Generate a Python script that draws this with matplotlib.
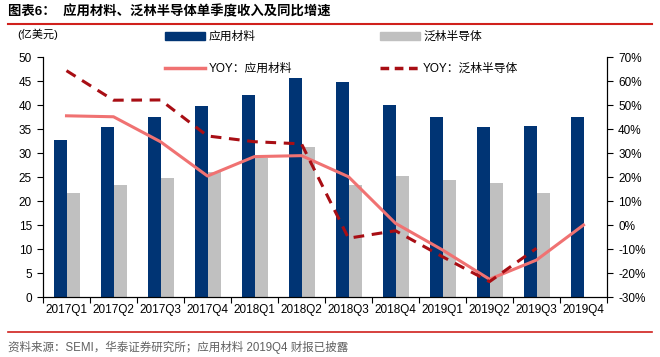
import numpy as np
import matplotlib.pyplot as plt
from matplotlib.lines import Line2D

plt.rcParams['font.family'] = ['Liberation Sans', 'Noto Sans CJK SC', 'DejaVu Sans']

quarters = ['2017Q1', '2017Q2', '2017Q3', '2017Q4', '2018Q1', '2018Q2',
            '2018Q3', '2018Q4', '2019Q1', '2019Q2', '2019Q3', '2019Q4']
amat_rev = [32.8, 35.5, 37.4, 39.7, 42.0, 45.7, 44.7, 40.1, 37.5, 35.4, 35.6, 37.5]
lam_rev = [21.6, 23.4, 24.8, 26.0, 28.9, 31.3, 23.3, 25.2, 24.4, 23.7, 21.7]
amat_yoy = [45.5, 45.1, 34.7, 20.4, 28.5, 28.9, 20.1, 0.7, -10.4, -22.6, -14.6, 0.0]
lam_yoy = [64.3, 52.0, 52.1, 37.1, 34.7, 33.8, -5.5, -2.4, -13.2, -23.6, -9.7]

navy = '#003474'
grey = '#C0C0C0'
salmon = '#F07272'
darkred = '#A80E14'
red = '#D0201C'

fig = plt.figure(figsize=(6.6, 3.57), dpi=100)
ax = fig.add_axes([43 / 660, 1 - 297 / 357, (607 - 43) / 660, 240 / 357])
ax2 = ax.twinx()

x = np.arange(len(quarters))
w = 0.28
ax.bar(x - 0.13, amat_rev, w, color=navy, zorder=2)
ax.bar(x[:len(lam_rev)] + 0.15, lam_rev, w, color=grey, zorder=2)

ax2.plot(x, amat_yoy, color=salmon, lw=2.2, zorder=3)
ax2.plot(x[:len(lam_yoy)], lam_yoy, color=darkred, lw=2.2, ls=(0, (3.5, 2.5)), zorder=4)

ax.set_xlim(-0.5, len(quarters) - 0.5)
ax.set_ylim(0, 50)
ax.set_yticks(range(0, 51, 5))
ax2.set_ylim(-30, 70)
ax2.set_yticks(range(-30, 71, 10))
ax2.set_yticklabels([f'{v}%' for v in range(-30, 71, 10)])

ax.set_xticks(x)
ax.set_xticklabels(quarters)
ax.set_xticks(np.arange(-0.5, len(quarters), 1), minor=True)
ax.tick_params(axis='x', which='major', length=0, labelsize=8.5, pad=5)
ax.tick_params(axis='x', which='minor', length=4, direction='out', width=0.8)
ax.tick_params(axis='y', length=4, width=0.8, labelsize=8.5, pad=4)
ax2.tick_params(axis='y', length=4, width=0.8, labelsize=8.5, pad=4)

for a in (ax, ax2):
    a.spines['top'].set_visible(False)
    for s in ('left', 'right', 'bottom'):
        a.spines[s].set_linewidth(0.8)

handles = [
    plt.Rectangle((0, 0), 1, 1, color=navy),
    Line2D([], [], color=salmon, lw=2.5),
    plt.Rectangle((0, 0), 1, 1, color=grey),
    Line2D([], [], color=darkred, lw=2.5, ls=(0, (2.5, 1.6))),
]
labels = ['应用材料', 'YOY：应用材料', '泛林半导体', 'YOY：泛林半导体']
fig.legend(handles, labels, ncol=2, loc='upper left',
           bbox_to_anchor=(165 / 660, 1 - 31 / 357), frameon=False,
           borderpad=0, borderaxespad=0, fontsize=8.5, handlelength=3.4,
           handleheight=0.6, handletextpad=0.3, labelspacing=1.65,
           columnspacing=7.4)

fig.text(17 / 660, 1 - 34 / 357, '(亿美元)', fontsize=8, va='center', ha='left')

fig.text(8 / 660, 1 - 12 / 357, '图表6：  应用材料、泛林半导体单季度收入及同比增速',
         fontsize=9.6, fontweight='bold', va='center', ha='left')
fig.add_artist(Line2D([8 / 660, 652 / 660], [1 - 24 / 357, 1 - 24 / 357],
                      color=red, lw=1.5))
fig.add_artist(Line2D([8 / 660, 652 / 660], [1 - 332 / 357, 1 - 332 / 357],
                      color=red, lw=1.2))
fig.text(8 / 660, 1 - 347 / 357, '资料来源：SEMI，华泰证券研究所；应用材料 2019Q4 财报已披露',
         fontsize=8.3, color='#606060', va='center', ha='left')

fig.savefig('out.png', dpi=100)
